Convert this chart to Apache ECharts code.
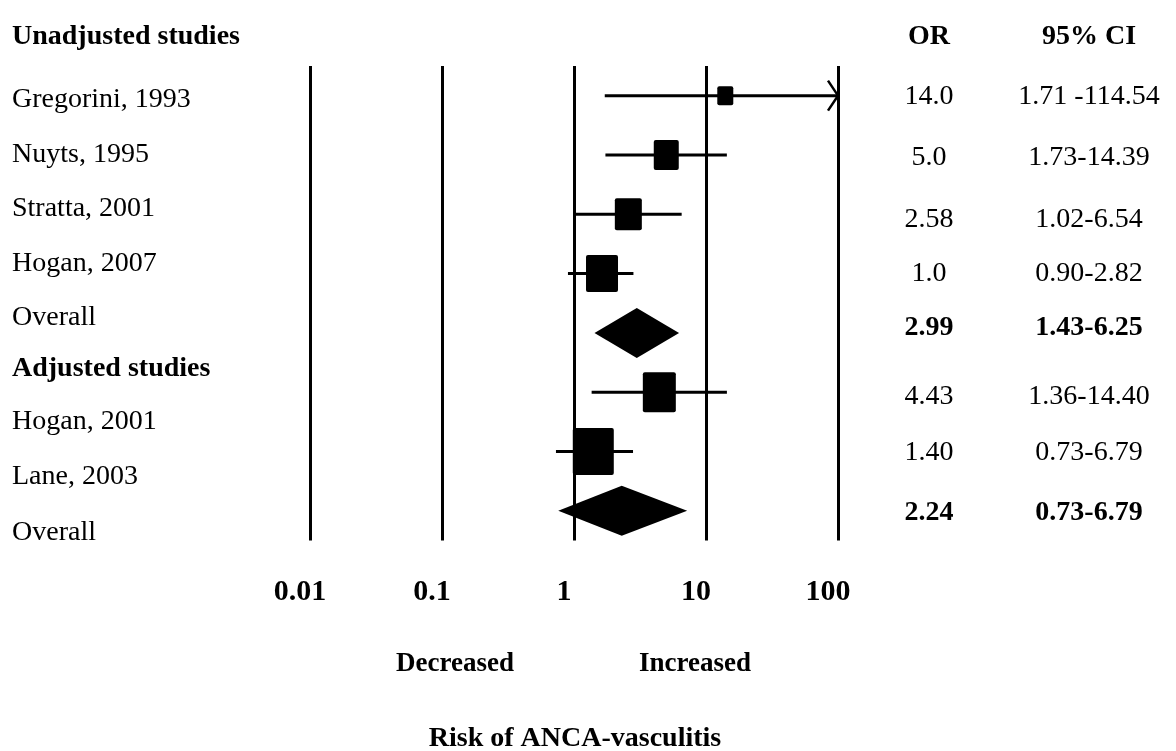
<!DOCTYPE html>
<html>
<head>
<meta charset="utf-8">
<script src="https://cdn.jsdelivr.net/npm/echarts@6/dist/echarts.min.js"></script>
<style>
  html, body { margin: 0; padding: 0; background: #fff; }
  #chart { width: 1176px; height: 751px; }
</style>
</head>
<body>
<div id="chart"></div>
<script>
// rows of the plot, top to bottom
const studyNames = ['Gregorini, 1993', 'Nuyts, 1995', 'Stratta, 2001', 'Hogan, 2007', 'Overall',
                    'Hogan, 2001', 'Lane, 2003', 'Overall'];
const rowKind = ['study', 'study', 'study', 'study', 'pooled', 'study', 'study', 'pooled'];
// plotted estimates / limits as drawn in the figure
const estPlot = [14.0, 5.0, 2.58, 1.63, 2.99, 4.43, 1.40, 2.3];
const loPlot = [1.71, 1.73, 1.02, 0.90, 1.43, 1.36, 0.73, 0.76];
const hiPlot = [114.54, 14.39, 6.54, 2.82, 6.25, 14.40, 2.8, 7.2];
// printed table
const orText = ['14.0', '5.0', '2.58', '1.0', '2.99', '4.43', '1.40', '2.24'];
const ciText = ['1.71 -114.54', '1.73-14.39', '1.02-6.54', '0.90-2.82', '1.43-6.25',
                '1.36-14.40', '0.73-6.79', '0.73-6.79'];
const xTicks = [0.01, 0.1, 1, 10, 100];

// left column labels (section headers + study names)
const leftLabels = ['Unadjusted studies', 'Gregorini, 1993', 'Nuyts, 1995', 'Stratta, 2001', 'Hogan, 2007',
                    'Overall', 'Adjusted studies', 'Hogan, 2001', 'Lane, 2003', 'Overall'];
const leftBold = [true, false, false, false, false, false, true, false, false, false];

// layout only
const serif = "'Liberation Serif', 'Times New Roman', serif";
const leftY = [37, 100, 155, 209, 264, 318, 369, 422, 477, 533];
const tableY = [97, 158, 220, 274, 328, 397, 453, 513];
const boxSize = [[16, 19], [25, 30], [27, 32], [32, 37], null, [33, 40], [41, 47], null];
const xMax = 100;

const chart = echarts.init(document.getElementById('chart'));

function renderRow(params, api) {
  const i = params.dataIndex;
  const row = api.value(3);
  const lo = api.value(0), est = api.value(1), hi = api.value(2);
  const pLo = api.coord([lo, row]);
  const pEst = api.coord([est, row]);
  const pHi = api.coord([Math.min(hi, xMax), row]);
  const y = pEst[1];
  const children = [];
  if (rowKind[i] === 'pooled') {
    children.push({
      type: 'polygon',
      shape: { points: [[pLo[0], y], [pEst[0], y - 25], [pHi[0], y], [pEst[0], y + 25]] },
      style: { fill: '#000' }
    });
  } else {
    children.push({
      type: 'line',
      shape: { x1: pLo[0], y1: y, x2: pHi[0], y2: y },
      style: { stroke: '#000', lineWidth: 3 }
    });
    if (hi > xMax) {
      // clipped upper limit -> arrow head
      children.push({
        type: 'polyline',
        shape: { points: [[pHi[0] - 10, y - 15], [pHi[0], y], [pHi[0] - 10, y + 15]] },
        style: { stroke: '#000', lineWidth: 2.5, fill: null }
      });
    }
    const s = boxSize[i];
    children.push({
      type: 'rect',
      shape: { x: pEst[0] - s[0] / 2, y: y - s[1] / 2, width: s[0], height: s[1], r: 2 },
      style: { fill: '#000' }
    });
  }
  return { type: 'group', children: children };
}

function label(text, x, y, bold, size, align) {
  return {
    type: 'text',
    style: {
      text: text, x: x, y: y, fill: '#000',
      font: (bold ? 'bold ' : '') + size + 'px ' + serif,
      textAlign: align || 'center', textVerticalAlign: 'middle'
    }
  };
}

const graphics = [];
leftLabels.forEach((t, k) => graphics.push(label(t, 12, leftY[k], leftBold[k], 28, 'left')));
graphics.push(label('OR', 929, 37, true, 28));
graphics.push(label('95% CI', 1089, 37, true, 28));
orText.forEach((t, k) => {
  const bold = rowKind[k] === 'pooled';
  graphics.push(label(t, 929, tableY[k], bold, 28));
  graphics.push(label(ciText[k], 1089, tableY[k], bold, 28));
});
graphics.push(label('Decreased', 455, 664, true, 27));
graphics.push(label('Increased', 695, 664, true, 27));
graphics.push(label('Risk of ANCA-vasculitis', 575, 739, true, 28));

const option = {
  backgroundColor: '#fff',
  animation: false,
  grid: { left: 310, right: 338, top: 66, bottom: 210.5 },
  xAxis: {
    type: 'log',
    logBase: 10,
    min: xTicks[0],
    max: xTicks[xTicks.length - 1],
    axisLine: { show: false },
    axisTick: { show: false },
    splitLine: { show: true, lineStyle: { color: '#000', width: 3 } },
    axisLabel: {
      margin: 37,
      color: '#000',
      fontFamily: serif,
      fontWeight: 'bold',
      fontSize: 30,
      padding: [0, 20, 0, 0],
      formatter: v => String(parseFloat(Number(v).toPrecision(6)))
    }
  },
  yAxis: {
    type: 'value',
    min: -0.5,
    max: studyNames.length - 0.5,
    inverse: true,
    show: false
  },
  series: [{
    type: 'custom',
    clip: false,
    renderItem: renderRow,
    encode: { x: [0, 1, 2], y: 3 },
    data: studyNames.map((n, i) => ({ name: n, value: [loPlot[i], estPlot[i], hiPlot[i], i] }))
  }],
  graphic: graphics
};

chart.setOption(option);
</script>
</body>
</html>
